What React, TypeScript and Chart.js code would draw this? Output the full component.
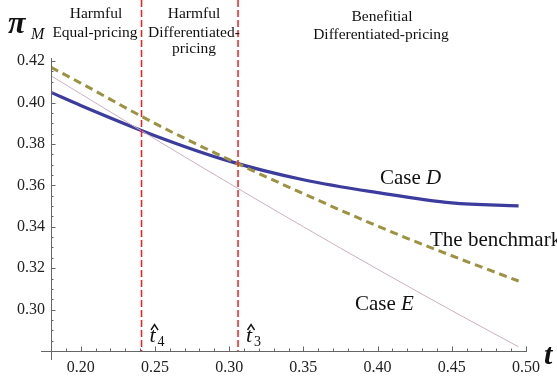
import { useEffect, useRef } from "react";
import { Chart, registerables } from "chart.js";
Chart.register(...registerables);

// ---- data ----
const tGrid = [0.18, 0.2, 0.25, 0.3, 0.35, 0.4, 0.45, 0.495];
const caseD = [0.4049, 0.3986, 0.384, 0.3717, 0.3627, 0.3565, 0.3515, 0.3501];
const benchmark = [0.417, 0.4094, 0.3899, 0.3724, 0.356, 0.3403, 0.326, 0.3138];
const caseE = [0.4129, 0.4042, 0.3824, 0.361, 0.34, 0.3195, 0.2995, 0.282];
const thresholds = [0.241, 0.306]; // t4 hat, t3 hat
const thresholdSubs = ["4", "3"];
const xTickStep = 0.05;
const yTickStep = 0.02;
const xRange = [0.18, 0.5];
const yRange = [0.28, 0.4215];

const SERIF = "'Liberation Serif', 'Times New Roman', serif";

const toPts = (ys: number[]) => ys.map((y, i) => ({ x: tGrid[i], y }));

const decor = {
  id: "decor",
  afterDraw(chart: any) {
    const ctx = chart.ctx as CanvasRenderingContext2D;
    const xs = chart.scales.x;
    const ys = chart.scales.y;
    const area = chart.chartArea;
    const x0 = area.left;
    const y0 = area.bottom;
    ctx.save();
    // axes
    ctx.strokeStyle = "#666";
    ctx.lineWidth = 1;
    ctx.beginPath();
    ctx.moveTo(x0 - 10, y0 + 0.5);
    ctx.lineTo(area.right + 1, y0 + 0.5);
    ctx.moveTo(x0 + 0.5, y0 + 9);
    ctx.lineTo(x0 + 0.5, area.top);
    ctx.stroke();
    // x ticks
    ctx.beginPath();
    for (let k = 19; k <= 50; k++) {
      const v = k / 100;
      const major = k % 5 === 0;
      const px = Math.round(xs.getPixelForValue(v)) + 0.5;
      ctx.moveTo(px, y0);
      ctx.lineTo(px, y0 - (major ? 4.5 : 2.5));
    }
    // y ticks
    for (let k = 57; k <= 84; k++) {
      const v = k / 200;
      const major = k % 4 === 0;
      const py = Math.round(ys.getPixelForValue(v)) + 0.5;
      ctx.moveTo(x0, py);
      ctx.lineTo(x0 + (major ? 4.5 : 2.5), py);
    }
    ctx.stroke();

    // red threshold lines
    ctx.strokeStyle = "#ff1a1a";
    ctx.lineWidth = 1.5;
    ctx.setLineDash([7, 3]);
    thresholds.forEach((t) => {
      const px = xs.getPixelForValue(t);
      ctx.beginPath();
      ctx.moveTo(px, 0);
      ctx.lineTo(px, y0);
      ctx.stroke();
    });
    ctx.setLineDash([]);

    // t hat labels
    ctx.fillStyle = "#111";
    ctx.strokeStyle = "#111";
    ctx.textBaseline = "alphabetic";
    ctx.textAlign = "left";
    thresholds.forEach((t, i) => {
      const px = xs.getPixelForValue(t) + 8;
      ctx.font = `italic 22px ${SERIF}`;
      ctx.fillText("t", px, 342);
      ctx.lineWidth = 1.4;
      ctx.beginPath();
      ctx.moveTo(px + 1.5, 330);
      ctx.lineTo(px + 5, 324.5);
      ctx.lineTo(px + 8.5, 330);
      ctx.stroke();
      ctx.font = `14px ${SERIF}`;
      ctx.fillText(thresholdSubs[i], px + 8, 346);
    });

    // header texts
    ctx.textAlign = "center";
    ctx.font = `15.5px ${SERIF}`;
    ctx.fillText("Harmful", 96, 18);
    ctx.fillText("Equal-pricing", 95, 37);
    ctx.fillText("Harmful", 194, 18);
    ctx.fillText("Differentiated-", 194, 37);
    ctx.fillText("pricing", 194, 53);
    ctx.fillText("Benefitial", 382, 21);
    ctx.fillText("Differentiated-pricing", 381, 39);

    // curve labels
    ctx.textAlign = "left";
    const mixed = (a: string, b: string, x: number, y: number) => {
      ctx.font = `21px ${SERIF}`;
      ctx.fillText(a, x, y);
      const w = ctx.measureText(a).width;
      ctx.font = `italic 21px ${SERIF}`;
      ctx.fillText(b, x + w, y);
    };
    mixed("Case ", "D", 380, 184);
    ctx.font = `21px ${SERIF}`;
    ctx.fillText("The benchmark", 430, 246);
    mixed("Case ", "E", 355, 310);

    // axis labels
    ctx.font = `bold italic 32px ${SERIF}`;
    ctx.fillText("π", 8, 33);
    ctx.font = `italic 16px ${SERIF}`;
    ctx.fillText("M", 31, 39);
    ctx.font = `bold italic 30px ${SERIF}`;
    ctx.fillText("t", 544, 364);
    ctx.restore();
  },
};

export default function App() {
  const ref = useRef<HTMLCanvasElement | null>(null);
  useEffect(() => {
    if (!ref.current) return;
    const chart = new Chart(ref.current, {
      type: "line",
      data: {
        datasets: [
          {
            label: "Case E",
            data: toPts(caseE),
            borderColor: "#cdb0c2",
            borderWidth: 1,
            pointRadius: 0,
            cubicInterpolationMode: "monotone",
          },
          {
            label: "The benchmark",
            data: toPts(benchmark),
            borderColor: "#9c9241",
            borderWidth: 3,
            borderDash: [8, 5],
            pointRadius: 0,
            cubicInterpolationMode: "monotone",
          },
          {
            label: "Case D",
            data: toPts(caseD),
            borderColor: "#3c3c9e",
            borderWidth: 3.2,
            pointRadius: 0,
            cubicInterpolationMode: "monotone",
          },
        ],
      },
      options: {
        animation: false,
        responsive: false,
        layout: { padding: { top: 58, right: 31, left: 0, bottom: 0 } },
        plugins: { legend: { display: false }, tooltip: { enabled: false }, title: { display: false } },
        scales: {
          x: {
            type: "linear",
            min: xRange[0],
            max: xRange[1],
            grid: { display: false, drawTicks: false },
            border: { display: false },
            afterFit: (s: any) => {
              s.height = 26;
            },
            ticks: {
              stepSize: xTickStep,
              includeBounds: false,
              padding: 7,
              maxRotation: 0,
              autoSkip: false,
              color: "#222",
              font: { family: SERIF, size: 16 },
              callback: (v: any) => Number(v).toFixed(2),
            },
          },
          y: {
            type: "linear",
            min: yRange[0],
            max: yRange[1],
            grid: { display: false, drawTicks: false },
            border: { display: false },
            afterFit: (s: any) => {
              s.width = 51;
            },
            ticks: {
              stepSize: yTickStep,
              includeBounds: false,
              padding: 6,
              autoSkip: false,
              color: "#222",
              font: { family: SERIF, size: 16 },
              callback: (v: any) => (Number(v) < 0.29 ? "" : Number(v).toFixed(2)),
            },
          },
        },
      },
      plugins: [decor],
    });
    return () => chart.destroy();
  }, []);
  return (
    <div style={{ position: "fixed", left: 0, top: 0, width: 557, height: 377, background: "#fff" }}>
      <canvas ref={ref} width={557} height={377} style={{ display: "block" }} />
    </div>
  );
}
